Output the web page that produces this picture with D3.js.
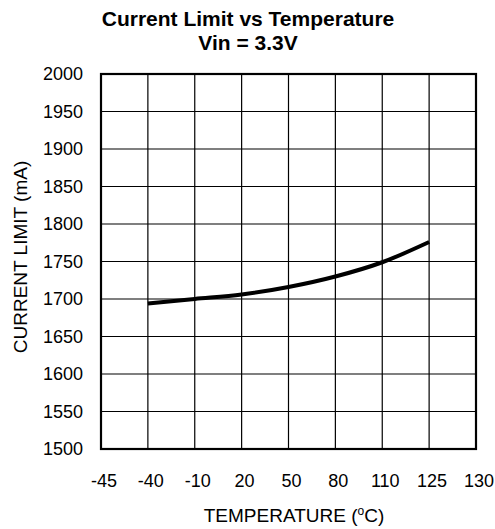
<!DOCTYPE html>
<html>
<head>
<meta charset="utf-8">
<script src="https://cdn.jsdelivr.net/npm/d3@7"></script>
<style>
  body { margin: 0; background: #fff; }
  svg { font-family: "Liberation Sans", Arial, sans-serif; }
</style>
</head>
<body>
<svg id="chart" width="495" height="529"></svg>
<script>
// x axis is evenly spaced categories, not a linear temperature scale
const xTicks = ["-45", "-40", "-10", "20", "50", "80", "110", "125", "130"];
const yTicks = [1500, 1550, 1600, 1650, 1700, 1750, 1800, 1850, 1900, 1950, 2000];

const temps = ["-40", "-10", "20", "50", "80", "110", "125"];
const currentLimit = [1694, 1700, 1706, 1716, 1730, 1749, 1776];

const svg = d3.select("#chart");
const plotL = 101, plotR = 476, plotT = 74, plotB = 449;

const x = d3.scalePoint().domain(xTicks).range([plotL, plotR]);
const y = d3.scaleLinear().domain([1500, 2000]).range([plotB, plotT]);

// grid
svg.append("g")
    .selectAll("line")
    .data(xTicks)
    .join("line")
    .attr("x1", d => x(d)).attr("x2", d => x(d))
    .attr("y1", plotT).attr("y2", plotB)
    .attr("stroke", "#000").attr("stroke-width", 1.2);

svg.append("g")
    .selectAll("line")
    .data(yTicks)
    .join("line")
    .attr("x1", plotL).attr("x2", plotR)
    .attr("y1", d => y(d)).attr("y2", d => y(d))
    .attr("stroke", "#000").attr("stroke-width", 1.2);

svg.append("rect")
    .attr("x", plotL).attr("y", plotT)
    .attr("width", plotR - plotL).attr("height", plotB - plotT)
    .attr("fill", "none").attr("stroke", "#000").attr("stroke-width", 2.2);

// tick labels
svg.append("g")
    .selectAll("text")
    .data(yTicks)
    .join("text")
    .attr("x", 83)
    .attr("y", d => y(d))
    .attr("dy", "0.36em")
    .attr("text-anchor", "end")
    .style("font-size", "18px")
    .text(d => d);

svg.append("g")
    .selectAll("text")
    .data(xTicks)
    .join("text")
    .attr("x", d => x(d) + 3)
    .attr("y", 487)
    .attr("text-anchor", "middle")
    .style("font-size", "18px")
    .text(d => d);

// curve
const line = d3.line()
    .x((d, i) => x(temps[i]))
    .y(d => y(d))
    .curve(d3.curveMonotoneX);

svg.append("path")
    .datum(currentLimit)
    .attr("fill", "none")
    .attr("stroke", "#000")
    .attr("stroke-width", 4)
    .attr("d", line);

// titles
svg.append("text")
    .attr("x", 248).attr("y", 26)
    .attr("text-anchor", "middle")
    .style("font-size", "21px").style("font-weight", "bold")
    .text("Current Limit vs Temperature");

svg.append("text")
    .attr("x", 248).attr("y", 50)
    .attr("text-anchor", "middle")
    .style("font-size", "21px").style("font-weight", "bold")
    .text("Vin = 3.3V");

// axis labels
const xl = svg.append("text")
    .attr("x", 294).attr("y", 522)
    .attr("text-anchor", "middle")
    .style("font-size", "19px")
    .text("TEMPERATURE (");
xl.append("tspan").attr("dy", -7).style("font-size", "12px").text("o");
xl.append("tspan").attr("dy", 7).text("C)");

svg.append("text")
    .attr("transform", "translate(27,257) rotate(-90)")
    .attr("text-anchor", "middle")
    .style("font-size", "19px")
    .text("CURRENT LIMIT (mA)");
</script>
</body>
</html>
